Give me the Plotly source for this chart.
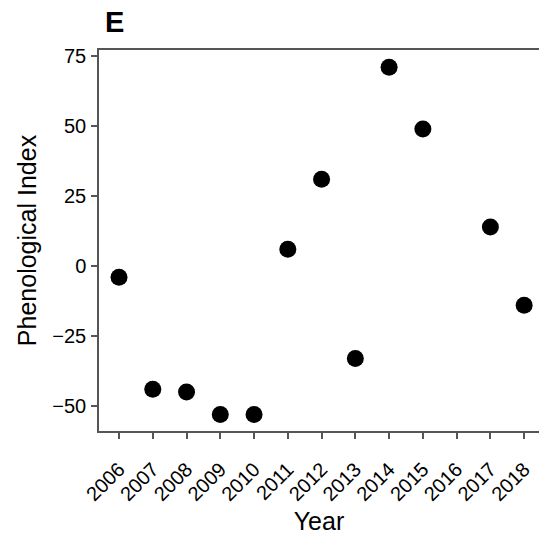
import plotly.graph_objects as go

years = [2006, 2007, 2008, 2009, 2010, 2011, 2012, 2013, 2014, 2015, 2017, 2018]
index_values = [-4, -44, -45, -53, -53, 6, 31, -33, 71, 49, 14, -14]
tick_years = list(range(2006, 2019))
y_ticks = [-50, -25, 0, 25, 50, 75]

fig = go.Figure()
fig.add_trace(go.Scatter(
    x=years, y=index_values, mode="markers",
    marker=dict(color="black", size=17, line=dict(width=0)),
    showlegend=False,
))

axis_color = "#555555"
font_family = "Liberation Sans, Arial, sans-serif"

fig.update_layout(
    width=539, height=541,
    margin=dict(l=99, r=0, t=50, b=110),
    plot_bgcolor="white", paper_bgcolor="white",
    font=dict(family=font_family, color="black"),
    xaxis=dict(
        range=[2005.407, 2018.44],
        tickmode="array", tickvals=tick_years, ticktext=[str(y) for y in tick_years],
        tickangle=-45, ticks="outside", ticklen=6, tickwidth=1.5, tickcolor=axis_color,
        ticklabelstandoff=11,
        showline=True, linecolor=axis_color, linewidth=1.5, mirror=True,
        showgrid=False, zeroline=False,
        tickfont=dict(size=20, color="black"),
        title=dict(text="Year", font=dict(size=25), standoff=8),
    ),
    yaxis=dict(
        range=[-58.9, 77.2],
        tickmode="array", tickvals=y_ticks, ticktext=["−50", "−25", "0", "25", "50", "75"],
        ticks="outside", ticklen=6, tickwidth=1.5, tickcolor=axis_color,
        ticklabelstandoff=1,
        showline=True, linecolor=axis_color, linewidth=1.5, mirror=False,
        showgrid=False, zeroline=False,
        tickfont=dict(size=20, color="black"),
        title=dict(text="Phenological Index", font=dict(size=25), standoff=9),
    ),
    annotations=[dict(
        text="<b>E</b>", xref="paper", yref="paper",
        x=0.008, y=1.12, xanchor="left", yanchor="top",
        showarrow=False, font=dict(size=29, color="black"),
    )],
)

fig.write_html("out.html")
